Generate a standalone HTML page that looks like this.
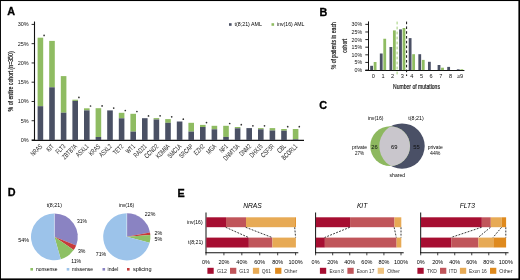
<!DOCTYPE html>
<html><head><meta charset="utf-8"><title>Figure</title>
<style>
html,body{margin:0;padding:0;background:#fff;}
body{width:520px;height:280px;overflow:hidden;font-family:"Liberation Sans",sans-serif;}
svg{display:block;}
text.sk{stroke:#222;stroke-width:0.22px;paint-order:stroke;}
</style></head><body>
<svg width="520" height="280" viewBox="0 0 520 280" font-family="Liberation Sans, sans-serif">
<defs><filter id="bl" x="-2%" y="-2%" width="104%" height="104%" color-interpolation-filters="sRGB"><feGaussianBlur stdDeviation="0.4"/></filter></defs><g filter="url(#bl)"><rect x="0" y="0" width="520" height="280" fill="#fff"/>
<text x="7.20" y="15.43" font-size="10.8" fill="#000" font-weight="bold" stroke="#000" stroke-width="0.3">A</text>
<text x="319.60" y="15.63" font-size="10.8" fill="#000" font-weight="bold" stroke="#000" stroke-width="0.3">B</text>
<text x="319.30" y="109.33" font-size="10.8" fill="#000" font-weight="bold" stroke="#000" stroke-width="0.3">C</text>
<text x="7.70" y="196.43" font-size="10.8" fill="#000" font-weight="bold" stroke="#000" stroke-width="0.3">D</text>
<text x="177.40" y="197.13" font-size="10.8" fill="#000" font-weight="bold" stroke="#000" stroke-width="0.3">E</text>
<line x1="34.50" y1="21.50" x2="34.50" y2="141.00" stroke="#111" stroke-width="1.1"/>
<line x1="31.80" y1="140.40" x2="304.00" y2="140.40" stroke="#111" stroke-width="1.15"/>
<line x1="31.60" y1="140.00" x2="34.40" y2="140.00" stroke="#111" stroke-width="0.9"/>
<text x="28.70" y="142.00" font-size="5.5" text-anchor="end" fill="#111">0%</text>
<line x1="31.60" y1="120.73" x2="34.40" y2="120.73" stroke="#111" stroke-width="0.9"/>
<text x="28.70" y="122.73" font-size="5.5" text-anchor="end" fill="#111">5%</text>
<line x1="31.60" y1="101.47" x2="34.40" y2="101.47" stroke="#111" stroke-width="0.9"/>
<text x="28.70" y="103.47" font-size="5.5" text-anchor="end" fill="#111">10%</text>
<line x1="31.60" y1="82.20" x2="34.40" y2="82.20" stroke="#111" stroke-width="0.9"/>
<text x="28.70" y="84.20" font-size="5.5" text-anchor="end" fill="#111">15%</text>
<line x1="31.60" y1="62.94" x2="34.40" y2="62.94" stroke="#111" stroke-width="0.9"/>
<text x="28.70" y="64.94" font-size="5.5" text-anchor="end" fill="#111">20%</text>
<line x1="31.60" y1="43.67" x2="34.40" y2="43.67" stroke="#111" stroke-width="0.9"/>
<text x="28.70" y="45.67" font-size="5.5" text-anchor="end" fill="#111">25%</text>
<line x1="31.60" y1="24.41" x2="34.40" y2="24.41" stroke="#111" stroke-width="0.9"/>
<text x="28.70" y="26.41" font-size="5.5" text-anchor="end" fill="#111">30%</text>
<text x="13.30" y="81.40" font-size="6.7" text-anchor="middle" fill="#1a1a1a" textLength="60.00" lengthAdjust="spacingAndGlyphs" transform="rotate(-90 13.30 81.40)" class="sk">% of entire cohort (n=350)</text>
<rect x="37.60" y="37.70" width="5.60" height="68.50" fill="#8fbc62"/>
<rect x="37.60" y="106.20" width="5.60" height="33.80" fill="#4a5064"/>
<circle cx="44.10" cy="35.40" r="0.85" fill="#333"/>
<text x="42.80" y="146.90" font-size="6.9" text-anchor="end" fill="#1a1a1a" textLength="13.42" lengthAdjust="spacingAndGlyphs" transform="rotate(-45 42.80 146.90)">NRAS</text>
<rect x="49.20" y="40.90" width="5.60" height="46.40" fill="#8fbc62"/>
<rect x="49.20" y="87.30" width="5.60" height="52.70" fill="#4a5064"/>
<text x="54.40" y="146.90" font-size="6.9" text-anchor="end" fill="#1a1a1a" textLength="7.51" lengthAdjust="spacingAndGlyphs" transform="rotate(-45 54.40 146.90)">KIT</text>
<rect x="60.80" y="76.10" width="5.60" height="36.60" fill="#8fbc62"/>
<rect x="60.80" y="112.70" width="5.60" height="27.30" fill="#4a5064"/>
<text x="66.00" y="146.90" font-size="6.9" text-anchor="end" fill="#1a1a1a" textLength="10.91" lengthAdjust="spacingAndGlyphs" transform="rotate(-45 66.00 146.90)">FLT3</text>
<rect x="72.40" y="99.70" width="5.60" height="1.20" fill="#8fbc62"/>
<rect x="72.40" y="100.90" width="5.60" height="39.10" fill="#4a5064"/>
<circle cx="78.90" cy="97.40" r="0.85" fill="#333"/>
<text x="77.60" y="146.90" font-size="6.9" text-anchor="end" fill="#1a1a1a" textLength="18.25" lengthAdjust="spacingAndGlyphs" transform="rotate(-45 77.60 146.90)">ZBTB7A</text>
<rect x="84.00" y="108.30" width="5.60" height="2.10" fill="#8fbc62"/>
<rect x="84.00" y="110.40" width="5.60" height="29.60" fill="#4a5064"/>
<circle cx="90.50" cy="106.00" r="0.85" fill="#333"/>
<text x="89.20" y="146.90" font-size="6.9" text-anchor="end" fill="#1a1a1a" textLength="15.04" lengthAdjust="spacingAndGlyphs" transform="rotate(-45 89.20 146.90)">ASXL1</text>
<rect x="95.60" y="108.20" width="5.60" height="28.80" fill="#8fbc62"/>
<rect x="95.60" y="137.00" width="5.60" height="3.00" fill="#4a5064"/>
<circle cx="102.10" cy="105.90" r="0.85" fill="#333"/>
<text x="100.80" y="146.90" font-size="6.9" text-anchor="end" fill="#1a1a1a" textLength="13.15" lengthAdjust="spacingAndGlyphs" transform="rotate(-45 100.80 146.90)">KRAS</text>
<rect x="107.20" y="110.40" width="5.60" height="29.60" fill="#4a5064"/>
<circle cx="113.70" cy="108.10" r="0.85" fill="#333"/>
<text x="112.40" y="146.90" font-size="6.9" text-anchor="end" fill="#1a1a1a" textLength="15.04" lengthAdjust="spacingAndGlyphs" transform="rotate(-45 112.40 146.90)">ASXL2</text>
<rect x="118.80" y="112.80" width="5.60" height="5.50" fill="#8fbc62"/>
<rect x="118.80" y="118.30" width="5.60" height="21.70" fill="#4a5064"/>
<circle cx="125.30" cy="110.50" r="0.85" fill="#333"/>
<text x="124.00" y="146.90" font-size="6.9" text-anchor="end" fill="#1a1a1a" textLength="11.81" lengthAdjust="spacingAndGlyphs" transform="rotate(-45 124.00 146.90)">TET2</text>
<rect x="130.40" y="113.80" width="5.60" height="17.80" fill="#8fbc62"/>
<rect x="130.40" y="131.60" width="5.60" height="8.40" fill="#4a5064"/>
<circle cx="136.90" cy="111.50" r="0.85" fill="#333"/>
<text x="135.60" y="146.90" font-size="6.9" text-anchor="end" fill="#1a1a1a" textLength="10.20" lengthAdjust="spacingAndGlyphs" transform="rotate(-45 135.60 146.90)">WT1</text>
<rect x="142.00" y="118.20" width="5.60" height="21.80" fill="#4a5064"/>
<circle cx="148.50" cy="115.90" r="0.85" fill="#333"/>
<text x="147.20" y="146.90" font-size="6.9" text-anchor="end" fill="#1a1a1a" textLength="15.57" lengthAdjust="spacingAndGlyphs" transform="rotate(-45 147.20 146.90)">RAD21</text>
<rect x="153.60" y="118.10" width="5.60" height="1.40" fill="#8fbc62"/>
<rect x="153.60" y="119.50" width="5.60" height="20.50" fill="#4a5064"/>
<circle cx="160.10" cy="115.80" r="0.85" fill="#333"/>
<text x="158.80" y="146.90" font-size="6.9" text-anchor="end" fill="#1a1a1a" textLength="16.64" lengthAdjust="spacingAndGlyphs" transform="rotate(-45 158.80 146.90)">CCND2</text>
<rect x="165.20" y="119.10" width="5.60" height="3.70" fill="#8fbc62"/>
<rect x="165.20" y="122.80" width="5.60" height="17.20" fill="#4a5064"/>
<circle cx="171.70" cy="116.80" r="0.85" fill="#333"/>
<text x="170.40" y="146.90" font-size="6.9" text-anchor="end" fill="#1a1a1a" textLength="16.64" lengthAdjust="spacingAndGlyphs" transform="rotate(-45 170.40 146.90)">KDM6A</text>
<rect x="176.80" y="121.50" width="5.60" height="18.50" fill="#4a5064"/>
<circle cx="183.30" cy="119.20" r="0.85" fill="#333"/>
<text x="182.00" y="146.90" font-size="6.9" text-anchor="end" fill="#1a1a1a" textLength="16.64" lengthAdjust="spacingAndGlyphs" transform="rotate(-45 182.00 146.90)">SMC1A</text>
<rect x="188.40" y="122.80" width="5.60" height="8.80" fill="#8fbc62"/>
<rect x="188.40" y="131.60" width="5.60" height="8.40" fill="#4a5064"/>
<text x="193.60" y="146.90" font-size="6.9" text-anchor="end" fill="#1a1a1a" textLength="16.64" lengthAdjust="spacingAndGlyphs" transform="rotate(-45 193.60 146.90)">SRCAP</text>
<rect x="200.00" y="124.90" width="5.60" height="2.10" fill="#8fbc62"/>
<rect x="200.00" y="127.00" width="5.60" height="13.00" fill="#4a5064"/>
<circle cx="206.50" cy="122.60" r="0.85" fill="#333"/>
<text x="205.20" y="146.90" font-size="6.9" text-anchor="end" fill="#1a1a1a" textLength="12.35" lengthAdjust="spacingAndGlyphs" transform="rotate(-45 205.20 146.90)">EZH2</text>
<rect x="211.60" y="125.80" width="5.60" height="3.50" fill="#8fbc62"/>
<rect x="211.60" y="129.30" width="5.60" height="10.70" fill="#4a5064"/>
<text x="216.80" y="146.90" font-size="6.9" text-anchor="end" fill="#1a1a1a" textLength="11.00" lengthAdjust="spacingAndGlyphs" transform="rotate(-45 216.80 146.90)">MGA</text>
<rect x="223.20" y="125.80" width="5.60" height="11.10" fill="#8fbc62"/>
<rect x="223.20" y="136.90" width="5.60" height="3.10" fill="#4a5064"/>
<circle cx="229.70" cy="123.50" r="0.85" fill="#333"/>
<text x="228.40" y="146.90" font-size="6.9" text-anchor="end" fill="#1a1a1a" textLength="9.12" lengthAdjust="spacingAndGlyphs" transform="rotate(-45 228.40 146.90)">NF1</text>
<rect x="234.80" y="127.00" width="5.60" height="1.30" fill="#8fbc62"/>
<rect x="234.80" y="128.30" width="5.60" height="11.70" fill="#4a5064"/>
<circle cx="241.30" cy="124.70" r="0.85" fill="#333"/>
<text x="240.00" y="146.90" font-size="6.9" text-anchor="end" fill="#1a1a1a" textLength="19.86" lengthAdjust="spacingAndGlyphs" transform="rotate(-45 240.00 146.90)">DNMT3A</text>
<rect x="246.40" y="128.10" width="5.60" height="11.90" fill="#4a5064"/>
<circle cx="252.90" cy="125.80" r="0.85" fill="#333"/>
<text x="251.60" y="146.90" font-size="6.9" text-anchor="end" fill="#1a1a1a" textLength="13.69" lengthAdjust="spacingAndGlyphs" transform="rotate(-45 251.60 146.90)">DNM2</text>
<rect x="258.00" y="128.10" width="5.60" height="1.20" fill="#8fbc62"/>
<rect x="258.00" y="129.30" width="5.60" height="10.70" fill="#4a5064"/>
<circle cx="264.50" cy="125.80" r="0.85" fill="#333"/>
<text x="263.20" y="146.90" font-size="6.9" text-anchor="end" fill="#1a1a1a" textLength="15.57" lengthAdjust="spacingAndGlyphs" transform="rotate(-45 263.20 146.90)">DHX15</text>
<rect x="269.60" y="128.10" width="5.60" height="2.40" fill="#8fbc62"/>
<rect x="269.60" y="130.50" width="5.60" height="9.50" fill="#4a5064"/>
<text x="274.80" y="146.90" font-size="6.9" text-anchor="end" fill="#1a1a1a" textLength="15.83" lengthAdjust="spacingAndGlyphs" transform="rotate(-45 274.80 146.90)">CSF3R</text>
<rect x="281.20" y="129.00" width="5.60" height="1.70" fill="#8fbc62"/>
<rect x="281.20" y="130.70" width="5.60" height="9.30" fill="#4a5064"/>
<circle cx="287.70" cy="126.70" r="0.85" fill="#333"/>
<text x="286.40" y="146.90" font-size="6.9" text-anchor="end" fill="#1a1a1a" textLength="9.40" lengthAdjust="spacingAndGlyphs" transform="rotate(-45 286.40 146.90)">CBL</text>
<rect x="292.80" y="129.00" width="5.60" height="10.30" fill="#8fbc62"/>
<rect x="292.80" y="139.30" width="5.60" height="0.70" fill="#4a5064"/>
<circle cx="299.30" cy="126.70" r="0.85" fill="#333"/>
<text x="298.00" y="146.90" font-size="6.9" text-anchor="end" fill="#1a1a1a" textLength="19.33" lengthAdjust="spacingAndGlyphs" transform="rotate(-45 298.00 146.90)">BCORL1</text>
<rect x="229.00" y="23.20" width="2.60" height="2.60" fill="#4a5064"/>
<text x="234.50" y="26.30" font-size="5.5" textLength="27.50" lengthAdjust="spacingAndGlyphs">t(8;21) AML</text>
<rect x="271.50" y="23.20" width="2.60" height="2.60" fill="#8fbc62"/>
<text x="277.00" y="26.30" font-size="5.5" textLength="27.50" lengthAdjust="spacingAndGlyphs">inv(16) AML</text>
<line x1="368.50" y1="21.40" x2="368.50" y2="71.00" stroke="#111" stroke-width="1.0"/>
<line x1="365.20" y1="70.50" x2="464.40" y2="70.50" stroke="#111" stroke-width="1.0"/>
<line x1="365.30" y1="70.05" x2="368.50" y2="70.05" stroke="#111" stroke-width="0.9"/>
<text x="362.20" y="72.05" font-size="5.3" text-anchor="end" fill="#111">0%</text>
<line x1="365.30" y1="62.43" x2="368.50" y2="62.43" stroke="#111" stroke-width="0.9"/>
<text x="362.20" y="64.44" font-size="5.3" text-anchor="end" fill="#111">5%</text>
<line x1="365.30" y1="54.82" x2="368.50" y2="54.82" stroke="#111" stroke-width="0.9"/>
<text x="362.20" y="56.82" font-size="5.3" text-anchor="end" fill="#111">10%</text>
<line x1="365.30" y1="47.20" x2="368.50" y2="47.20" stroke="#111" stroke-width="0.9"/>
<text x="362.20" y="49.20" font-size="5.3" text-anchor="end" fill="#111">15%</text>
<line x1="365.30" y1="39.59" x2="368.50" y2="39.59" stroke="#111" stroke-width="0.9"/>
<text x="362.20" y="41.59" font-size="5.3" text-anchor="end" fill="#111">20%</text>
<line x1="365.30" y1="31.98" x2="368.50" y2="31.98" stroke="#111" stroke-width="0.9"/>
<text x="362.20" y="33.98" font-size="5.3" text-anchor="end" fill="#111">25%</text>
<line x1="365.30" y1="24.36" x2="368.50" y2="24.36" stroke="#111" stroke-width="0.9"/>
<text x="362.20" y="26.36" font-size="5.3" text-anchor="end" fill="#111">30%</text>
<text x="335.60" y="45.70" font-size="6.5" text-anchor="middle" fill="#1a1a1a" textLength="47.00" lengthAdjust="spacingAndGlyphs" transform="rotate(-90 335.60 45.70)" class="sk">% of patients in each</text>
<text x="346.60" y="45.70" font-size="6.3" text-anchor="middle" fill="#1a1a1a" textLength="13.90" lengthAdjust="spacingAndGlyphs" transform="rotate(-90 346.60 45.70)" class="sk">cohort</text>
<rect x="370.20" y="65.80" width="2.80" height="4.25" fill="#4a5064"/>
<rect x="373.70" y="62.00" width="2.80" height="8.05" fill="#8fbc62"/>
<text x="373.40" y="78.00" font-size="5.6" text-anchor="middle" fill="#111">0</text>
<rect x="379.83" y="53.50" width="2.80" height="16.55" fill="#4a5064"/>
<rect x="383.33" y="38.75" width="2.80" height="31.30" fill="#8fbc62"/>
<text x="383.03" y="78.00" font-size="5.6" text-anchor="middle" fill="#111">1</text>
<rect x="389.46" y="47.00" width="2.80" height="23.05" fill="#4a5064"/>
<rect x="392.96" y="30.40" width="2.80" height="39.65" fill="#8fbc62"/>
<text x="392.66" y="78.00" font-size="5.6" text-anchor="middle" fill="#111">2</text>
<rect x="399.09" y="29.40" width="2.80" height="40.65" fill="#4a5064"/>
<rect x="402.59" y="28.00" width="2.80" height="42.05" fill="#8fbc62"/>
<text x="402.29" y="78.00" font-size="5.6" text-anchor="middle" fill="#111">3</text>
<rect x="408.72" y="38.10" width="2.80" height="31.95" fill="#4a5064"/>
<rect x="412.22" y="54.20" width="2.80" height="15.85" fill="#8fbc62"/>
<text x="411.92" y="78.00" font-size="5.6" text-anchor="middle" fill="#111">4</text>
<rect x="418.35" y="54.20" width="2.80" height="15.85" fill="#4a5064"/>
<rect x="421.85" y="59.90" width="2.80" height="10.15" fill="#8fbc62"/>
<text x="421.55" y="78.00" font-size="5.6" text-anchor="middle" fill="#111">5</text>
<rect x="427.98" y="61.80" width="2.80" height="8.25" fill="#4a5064"/>
<text x="431.18" y="78.00" font-size="5.6" text-anchor="middle" fill="#111">6</text>
<rect x="437.61" y="65.00" width="2.80" height="5.05" fill="#4a5064"/>
<rect x="441.11" y="67.70" width="2.80" height="2.35" fill="#8fbc62"/>
<text x="440.81" y="78.00" font-size="5.6" text-anchor="middle" fill="#111">7</text>
<rect x="447.24" y="66.90" width="2.80" height="3.15" fill="#4a5064"/>
<text x="450.44" y="78.00" font-size="5.6" text-anchor="middle" fill="#111">8</text>
<rect x="456.87" y="69.30" width="2.80" height="0.75" fill="#4a5064"/>
<rect x="460.37" y="69.30" width="2.80" height="0.75" fill="#8fbc62"/>
<text x="460.07" y="78.00" font-size="5.6" text-anchor="middle" fill="#111">≥9</text>
<line x1="397.10" y1="21.60" x2="397.10" y2="76.00" stroke="#9fcf78" stroke-width="1.0" stroke-dasharray="2.8 2.2"/>
<line x1="406.60" y1="21.60" x2="406.60" y2="76.00" stroke="#111" stroke-width="1.0" stroke-dasharray="2.6 2.2"/>
<text x="416.50" y="88.60" font-size="7.2" text-anchor="middle" fill="#1a1a1a" textLength="46.90" lengthAdjust="spacingAndGlyphs" class="sk">Number of mutations</text>
<defs><clipPath id="cg"><circle cx="390.12" cy="146.1" r="19.92"/></clipPath></defs>
<circle cx="401.98" cy="146.1" r="22.72" fill="#4a5066"/>
<circle cx="390.12" cy="146.1" r="19.92" fill="#8db85f"/>
<circle cx="401.98" cy="146.1" r="22.72" fill="#c9c6cc" clip-path="url(#cg)"/>
<text x="375.70" y="120.00" font-size="5.9" text-anchor="middle" textLength="15.60" lengthAdjust="spacingAndGlyphs">inv(16)</text>
<text x="416.00" y="120.00" font-size="5.9" text-anchor="middle" textLength="15.30" lengthAdjust="spacingAndGlyphs">t(8;21)</text>
<text x="374.60" y="148.80" font-size="5.8" text-anchor="middle" fill="#111">26</text>
<text x="394.30" y="148.80" font-size="5.8" text-anchor="middle">69</text>
<text x="416.40" y="148.80" font-size="5.8" text-anchor="middle" fill="#111">55</text>
<text x="359.50" y="149.40" font-size="5.9" text-anchor="middle" textLength="15.00" lengthAdjust="spacingAndGlyphs">private</text>
<text x="359.50" y="155.40" font-size="5.9" text-anchor="middle" textLength="9.00" lengthAdjust="spacingAndGlyphs">27%</text>
<text x="435.20" y="149.40" font-size="5.9" text-anchor="middle" textLength="15.00" lengthAdjust="spacingAndGlyphs">private</text>
<text x="435.20" y="155.40" font-size="5.9" text-anchor="middle" textLength="10.40" lengthAdjust="spacingAndGlyphs">44%</text>
<text x="397.30" y="177.00" font-size="5.9" text-anchor="middle" textLength="15.40" lengthAdjust="spacingAndGlyphs">shared</text>
<path d="M54.40,236.80 L54.40,213.40 A23.4,23.4 0 0 1 76.16,245.41 Z" fill="#8a83c2"/>
<path d="M54.40,236.80 L76.16,245.41 A23.4,23.4 0 0 1 73.67,250.07 Z" fill="#c63b3b"/>
<path d="M54.40,236.80 L73.67,250.07 A23.4,23.4 0 0 1 60.79,259.31 Z" fill="#8dc064"/>
<path d="M54.40,236.80 L60.79,259.31 A23.4,23.4 0 1 1 54.40,213.40 Z" fill="#9cc3ea"/>
<line x1="54.40" y1="236.80" x2="54.40" y2="213.40" stroke="#fff" stroke-width="0.45" stroke-opacity="0.8"/>
<path d="M126.80,236.80 L126.80,213.20 A23.6,23.6 0 0 1 149.98,232.38 Z" fill="#8a83c2"/>
<path d="M126.80,236.80 L149.98,232.38 A23.6,23.6 0 0 1 150.33,235.02 Z" fill="#c63b3b"/>
<path d="M126.80,236.80 L150.33,235.02 A23.6,23.6 0 0 1 149.62,242.81 Z" fill="#8dc064"/>
<path d="M126.80,236.80 L149.62,242.81 A23.6,23.6 0 1 1 126.80,213.20 Z" fill="#9cc3ea"/>
<line x1="126.80" y1="236.80" x2="126.80" y2="213.20" stroke="#fff" stroke-width="0.45" stroke-opacity="0.8"/>
<text x="54.30" y="207.00" font-size="5.9" text-anchor="middle" textLength="15.30" lengthAdjust="spacingAndGlyphs">t(8;21)</text>
<text x="126.50" y="207.00" font-size="5.9" text-anchor="middle" textLength="15.40" lengthAdjust="spacingAndGlyphs">inv(16)</text>
<text x="82.00" y="223.30" font-size="5.9" text-anchor="middle" textLength="10.00" lengthAdjust="spacingAndGlyphs">31%</text>
<text x="81.70" y="253.30" font-size="5.9" text-anchor="middle" textLength="7.50" lengthAdjust="spacingAndGlyphs">3%</text>
<text x="76.20" y="262.50" font-size="5.9" text-anchor="middle" textLength="10.00" lengthAdjust="spacingAndGlyphs">11%</text>
<text x="23.60" y="242.20" font-size="5.7" text-anchor="middle" textLength="10.80" lengthAdjust="spacingAndGlyphs">54%</text>
<text x="150.10" y="216.20" font-size="5.9" text-anchor="middle" textLength="10.50" lengthAdjust="spacingAndGlyphs">22%</text>
<text x="158.50" y="234.50" font-size="5.9" text-anchor="middle" textLength="7.80" lengthAdjust="spacingAndGlyphs">2%</text>
<text x="158.50" y="241.30" font-size="5.9" text-anchor="middle" textLength="7.80" lengthAdjust="spacingAndGlyphs">5%</text>
<text x="101.00" y="255.80" font-size="5.9" text-anchor="middle" textLength="10.50" lengthAdjust="spacingAndGlyphs">71%</text>
<rect x="30.40" y="268.00" width="2.60" height="2.60" fill="#8dc064"/>
<text x="36.00" y="271.40" font-size="5.9" textLength="21.50" lengthAdjust="spacingAndGlyphs">nonsense</text>
<rect x="66.70" y="268.00" width="2.60" height="2.60" fill="#9cc3ea"/>
<text x="72.00" y="271.40" font-size="5.9" textLength="21.00" lengthAdjust="spacingAndGlyphs">missense</text>
<rect x="102.50" y="268.00" width="2.60" height="2.60" fill="#8a83c2"/>
<text x="107.50" y="271.40" font-size="5.9" textLength="10.80" lengthAdjust="spacingAndGlyphs">indel</text>
<rect x="127.00" y="268.00" width="2.60" height="2.60" fill="#c63b3b"/>
<text x="133.00" y="271.40" font-size="5.9" textLength="18.50" lengthAdjust="spacingAndGlyphs">splicing</text>
<text x="252.50" y="208.00" font-size="6.7" text-anchor="middle" font-style="italic">NRAS</text>
<line x1="206.00" y1="212.50" x2="206.00" y2="253.20" stroke="#111" stroke-width="1.0"/>
<line x1="205.50" y1="252.70" x2="298.30" y2="252.70" stroke="#111" stroke-width="1.1"/>
<line x1="206.00" y1="252.70" x2="206.00" y2="255.30" stroke="#111" stroke-width="0.8"/>
<text x="206.00" y="264.00" font-size="5.5" text-anchor="middle">0%</text>
<line x1="223.92" y1="252.70" x2="223.92" y2="255.30" stroke="#111" stroke-width="0.8"/>
<text x="223.92" y="264.00" font-size="5.5" text-anchor="middle">20%</text>
<line x1="241.84" y1="252.70" x2="241.84" y2="255.30" stroke="#111" stroke-width="0.8"/>
<text x="241.84" y="264.00" font-size="5.5" text-anchor="middle">40%</text>
<line x1="259.76" y1="252.70" x2="259.76" y2="255.30" stroke="#111" stroke-width="0.8"/>
<text x="259.76" y="264.00" font-size="5.5" text-anchor="middle">60%</text>
<line x1="277.68" y1="252.70" x2="277.68" y2="255.30" stroke="#111" stroke-width="0.8"/>
<text x="277.68" y="264.00" font-size="5.5" text-anchor="middle">80%</text>
<line x1="295.60" y1="252.70" x2="295.60" y2="255.30" stroke="#111" stroke-width="0.8"/>
<text x="295.60" y="264.00" font-size="5.5" text-anchor="middle">100%</text>
<rect x="206.30" y="217.30" width="19.71" height="9.90" fill="#a60e31"/>
<rect x="226.01" y="217.30" width="19.98" height="9.90" fill="#c0555a"/>
<rect x="245.99" y="217.30" width="49.01" height="9.90" fill="#e7aa55"/>
<rect x="295.00" y="217.30" width="0.90" height="9.90" fill="#df8a1e"/>
<rect x="206.30" y="237.60" width="42.56" height="9.90" fill="#a60e31"/>
<rect x="248.86" y="237.60" width="23.56" height="9.90" fill="#c0555a"/>
<rect x="272.42" y="237.60" width="23.48" height="9.90" fill="#e7aa55"/>
<line x1="225.71" y1="227.30" x2="248.56" y2="237.50" stroke="#222" stroke-width="0.9" stroke-dasharray="1.9 1.3"/>
<line x1="245.69" y1="227.30" x2="272.12" y2="237.50" stroke="#222" stroke-width="0.9" stroke-dasharray="1.9 1.3"/>
<line x1="294.70" y1="227.30" x2="295.60" y2="237.50" stroke="#222" stroke-width="0.9" stroke-dasharray="1.9 1.3"/>
<rect x="207.40" y="267.80" width="6.30" height="6.00" fill="#a60e31"/>
<text x="216.90" y="272.80" font-size="5.9" fill="#333" textLength="10.00" lengthAdjust="spacingAndGlyphs">G12</text>
<rect x="230.00" y="267.80" width="6.30" height="6.00" fill="#c0555a"/>
<text x="239.30" y="272.80" font-size="5.9" fill="#333" textLength="9.70" lengthAdjust="spacingAndGlyphs">G13</text>
<rect x="252.90" y="267.80" width="6.30" height="6.00" fill="#e7aa55"/>
<text x="261.80" y="272.80" font-size="5.9" fill="#333" textLength="9.10" lengthAdjust="spacingAndGlyphs">Q61</text>
<rect x="275.10" y="267.80" width="6.30" height="6.00" fill="#df8a1e"/>
<text x="284.20" y="272.80" font-size="5.9" fill="#333" textLength="13.10" lengthAdjust="spacingAndGlyphs">Other</text>
<text x="362.10" y="208.00" font-size="6.7" text-anchor="middle" font-style="italic">KIT</text>
<line x1="315.60" y1="212.50" x2="315.60" y2="253.20" stroke="#111" stroke-width="1.0"/>
<line x1="315.10" y1="252.70" x2="403.70" y2="252.70" stroke="#111" stroke-width="1.1"/>
<line x1="315.60" y1="252.70" x2="315.60" y2="255.30" stroke="#111" stroke-width="0.8"/>
<text x="315.60" y="264.00" font-size="5.5" text-anchor="middle">0%</text>
<line x1="332.68" y1="252.70" x2="332.68" y2="255.30" stroke="#111" stroke-width="0.8"/>
<text x="332.68" y="264.00" font-size="5.5" text-anchor="middle">20%</text>
<line x1="349.76" y1="252.70" x2="349.76" y2="255.30" stroke="#111" stroke-width="0.8"/>
<text x="349.76" y="264.00" font-size="5.5" text-anchor="middle">40%</text>
<line x1="366.84" y1="252.70" x2="366.84" y2="255.30" stroke="#111" stroke-width="0.8"/>
<text x="366.84" y="264.00" font-size="5.5" text-anchor="middle">60%</text>
<line x1="383.92" y1="252.70" x2="383.92" y2="255.30" stroke="#111" stroke-width="0.8"/>
<text x="383.92" y="264.00" font-size="5.5" text-anchor="middle">80%</text>
<line x1="401.00" y1="252.70" x2="401.00" y2="255.30" stroke="#111" stroke-width="0.8"/>
<text x="401.00" y="264.00" font-size="5.5" text-anchor="middle">100%</text>
<rect x="315.90" y="217.30" width="34.16" height="9.90" fill="#a60e31"/>
<rect x="350.06" y="217.30" width="44.41" height="9.90" fill="#c0555a"/>
<rect x="394.47" y="217.30" width="6.83" height="9.90" fill="#e7aa55"/>
<rect x="315.90" y="237.60" width="8.97" height="9.90" fill="#a60e31"/>
<rect x="324.87" y="237.60" width="71.74" height="9.90" fill="#c0555a"/>
<rect x="396.60" y="237.60" width="4.70" height="9.90" fill="#e7aa55"/>
<line x1="349.76" y1="227.30" x2="324.57" y2="237.50" stroke="#222" stroke-width="0.9" stroke-dasharray="1.9 1.3"/>
<line x1="394.17" y1="227.30" x2="396.30" y2="237.50" stroke="#222" stroke-width="0.9" stroke-dasharray="1.9 1.3"/>
<line x1="401.00" y1="227.30" x2="401.00" y2="237.50" stroke="#222" stroke-width="0.9" stroke-dasharray="1.9 1.3"/>
<rect x="319.90" y="267.80" width="6.30" height="6.00" fill="#a60e31"/>
<text x="329.50" y="272.80" font-size="5.9" fill="#333" textLength="14.30" lengthAdjust="spacingAndGlyphs">Exon 8</text>
<rect x="347.40" y="267.80" width="6.30" height="6.00" fill="#c0555a"/>
<text x="356.70" y="272.80" font-size="5.9" fill="#333" textLength="17.70" lengthAdjust="spacingAndGlyphs">Exon 17</text>
<rect x="377.70" y="267.80" width="6.30" height="6.00" fill="#efc27f"/>
<text x="387.20" y="272.80" font-size="5.9" fill="#333" textLength="12.70" lengthAdjust="spacingAndGlyphs">Other</text>
<text x="467.30" y="208.00" font-size="6.7" text-anchor="middle" font-style="italic">FLT3</text>
<line x1="420.70" y1="212.50" x2="420.70" y2="253.20" stroke="#111" stroke-width="1.0"/>
<line x1="420.20" y1="252.70" x2="508.50" y2="252.70" stroke="#111" stroke-width="1.1"/>
<line x1="420.70" y1="252.70" x2="420.70" y2="255.30" stroke="#111" stroke-width="0.8"/>
<text x="420.70" y="264.00" font-size="5.5" text-anchor="middle">0%</text>
<line x1="437.72" y1="252.70" x2="437.72" y2="255.30" stroke="#111" stroke-width="0.8"/>
<text x="437.72" y="264.00" font-size="5.5" text-anchor="middle">20%</text>
<line x1="454.74" y1="252.70" x2="454.74" y2="255.30" stroke="#111" stroke-width="0.8"/>
<text x="454.74" y="264.00" font-size="5.5" text-anchor="middle">40%</text>
<line x1="471.76" y1="252.70" x2="471.76" y2="255.30" stroke="#111" stroke-width="0.8"/>
<text x="471.76" y="264.00" font-size="5.5" text-anchor="middle">60%</text>
<line x1="488.78" y1="252.70" x2="488.78" y2="255.30" stroke="#111" stroke-width="0.8"/>
<text x="488.78" y="264.00" font-size="5.5" text-anchor="middle">80%</text>
<line x1="505.80" y1="252.70" x2="505.80" y2="255.30" stroke="#111" stroke-width="0.8"/>
<text x="505.80" y="264.00" font-size="5.5" text-anchor="middle">100%</text>
<rect x="421.00" y="217.30" width="60.85" height="9.90" fill="#a60e31"/>
<rect x="481.85" y="217.30" width="8.94" height="9.90" fill="#c0555a"/>
<rect x="490.78" y="217.30" width="11.06" height="9.90" fill="#e7aa55"/>
<rect x="501.85" y="217.30" width="4.26" height="9.90" fill="#df8a1e"/>
<rect x="421.00" y="237.60" width="30.21" height="9.90" fill="#a60e31"/>
<rect x="451.21" y="237.60" width="27.23" height="9.90" fill="#c0555a"/>
<rect x="478.44" y="237.60" width="14.89" height="9.90" fill="#e7aa55"/>
<rect x="493.34" y="237.60" width="12.77" height="9.90" fill="#df8a1e"/>
<line x1="481.55" y1="227.30" x2="450.91" y2="237.50" stroke="#222" stroke-width="0.9" stroke-dasharray="1.9 1.3"/>
<line x1="490.48" y1="227.30" x2="478.14" y2="237.50" stroke="#222" stroke-width="0.9" stroke-dasharray="1.9 1.3"/>
<line x1="501.55" y1="227.30" x2="493.04" y2="237.50" stroke="#222" stroke-width="0.9" stroke-dasharray="1.9 1.3"/>
<line x1="505.80" y1="227.30" x2="505.80" y2="237.50" stroke="#222" stroke-width="0.9" stroke-dasharray="1.9 1.3"/>
<rect x="417.40" y="267.80" width="6.30" height="6.00" fill="#a60e31"/>
<text x="426.90" y="272.80" font-size="5.9" fill="#333" textLength="10.00" lengthAdjust="spacingAndGlyphs">TKD</text>
<rect x="440.00" y="267.80" width="6.30" height="6.00" fill="#c0555a"/>
<text x="449.10" y="272.80" font-size="5.9" fill="#333" textLength="7.90" lengthAdjust="spacingAndGlyphs">ITD</text>
<rect x="459.90" y="267.80" width="6.30" height="6.00" fill="#e7aa55"/>
<text x="469.00" y="272.80" font-size="5.9" fill="#333" textLength="17.80" lengthAdjust="spacingAndGlyphs">Exon 16</text>
<rect x="490.00" y="267.80" width="6.30" height="6.00" fill="#df8a1e"/>
<text x="499.30" y="272.80" font-size="5.9" fill="#333" textLength="13.30" lengthAdjust="spacingAndGlyphs">Other</text>
<text x="202.60" y="223.70" font-size="5.5" text-anchor="end" textLength="15.50" lengthAdjust="spacingAndGlyphs">inv(16)</text>
<text x="203.00" y="244.30" font-size="5.5" text-anchor="end" textLength="15.00" lengthAdjust="spacingAndGlyphs">t(8;21)</text>
</g>
<rect x="0.00" y="0.00" width="520.00" height="1.05" fill="#000"/>
<rect x="0.00" y="0.00" width="0.95" height="280.00" fill="#000"/>
<rect x="518.40" y="0.00" width="1.60" height="280.00" fill="#000"/>
<rect x="0.00" y="278.40" width="520.00" height="1.60" fill="#000"/>
</svg>
</body></html>
